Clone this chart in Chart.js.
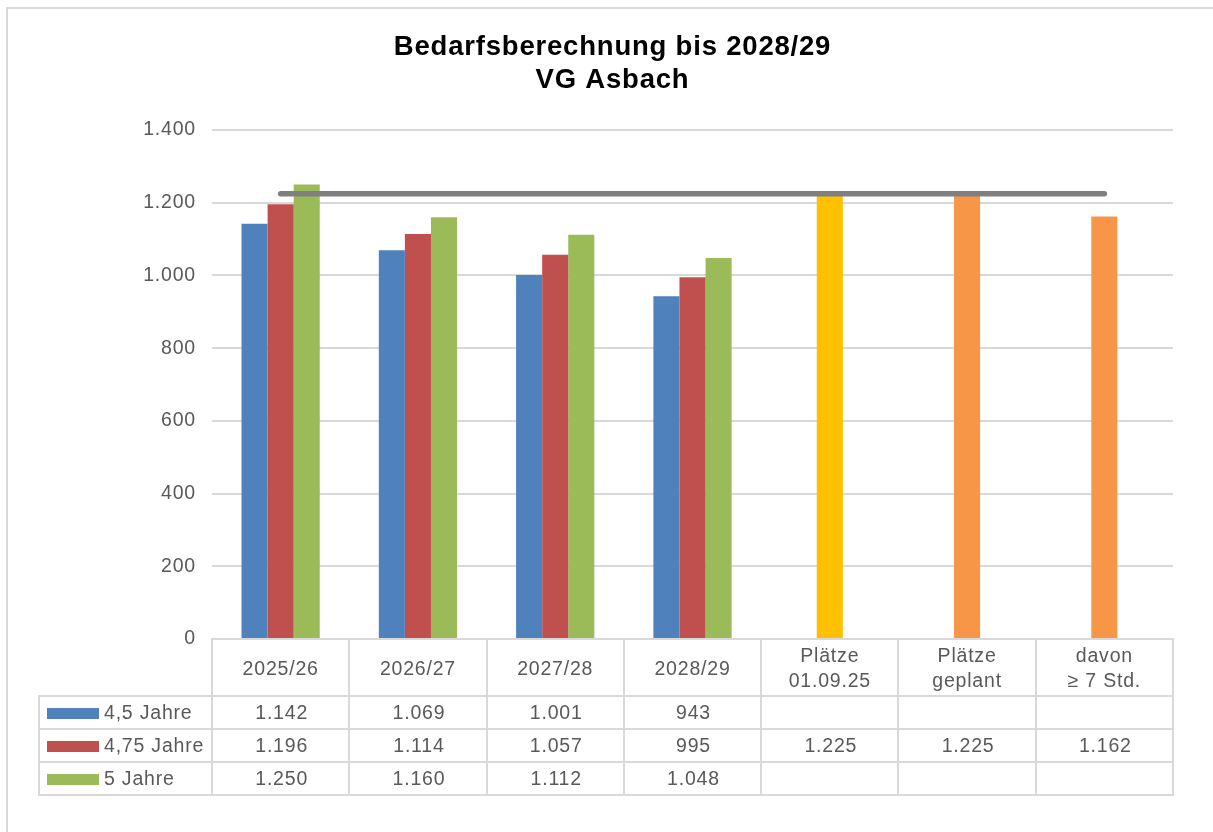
<!DOCTYPE html>
<html>
<head>
<meta charset="utf-8">
<script src="https://cdn.jsdelivr.net/npm/chart.js@4/dist/chart.umd.min.js"></script>
<style>
html,body{margin:0;padding:0;background:#fff;}
canvas{display:block;}
</style>
</head>
<body>
<canvas id="c" width="1213" height="832"></canvas>
<script>
// ---- data ----
const categories = ['2025/26', '2026/27', '2027/28', '2028/29', ['Plätze', '01.09.25'], ['Plätze', 'geplant'], ['davon', '≥ 7 Std.']];
const seriesNames = ['4,5 Jahre', '4,75 Jahre', '5 Jahre'];
const jahre45 = [1142, 1069, 1001, 943, null, null, null];
const jahre475 = [1196, 1114, 1057, 995, 1225, 1225, 1162];
const jahre5 = [1250, 1160, 1112, 1048, null, null, null];
const platzLinie = [1225, 1225, 1225, 1225, 1225, 1225, 1225];
const yMin = 0, yMax = 1400, yStep = 200;

// ---- styling ----
const FONT = "'Liberation Sans', Arial, sans-serif";
const FS = 19.5;
const TXT = '#595959';
const GRID = '#D9D9D9';
const LS = '0.8px';
const colBlue = '#4F81BD', colRed = '#C0504D', colGreen = '#9BBB59';
const colYellow = '#FFC000', colOrange = '#F79646';
const redPointColors = [colRed, colRed, colRed, colRed, colYellow, colOrange, colOrange];

function fmt(v) {
  if (v === null || v === undefined) return '';
  const s = String(Math.round(v));
  return s.replace(/\B(?=(\d{3})+(?!\d))/g, '.');
}

const HEADER_H = 57, ROW_H = 33, LEG_LEFT = 39;

const spacingPlugin = {
  id: 'spacing',
  beforeUpdate(chart) { chart.ctx.letterSpacing = LS; },
  beforeLayout(chart) { chart.ctx.letterSpacing = LS; },
  beforeDraw(chart) {
    const ctx = chart.ctx;
    ctx.letterSpacing = LS;
    ctx.save();
    ctx.fillStyle = '#fff';
    ctx.fillRect(0, 0, chart.width, chart.height);
    ctx.fillStyle = GRID;
    ctx.fillRect(6, 7, 2, chart.height - 7);
    ctx.fillRect(6, 7, chart.width - 6, 2);
    ctx.restore();
  }
};

const tablePlugin = {
  id: 'dataTable',
  afterDraw(chart) {
    const ctx = chart.ctx;
    const xs = chart.scales.x;
    const ca = chart.chartArea;
    const n = categories.length;
    const half = (xs.getPixelForValue(1) - xs.getPixelForValue(0)) / 2;
    const top = ca.bottom;
    const rowTop = top + HEADER_H;
    const bottom = rowTop + ROW_H * 3;
    ctx.save();
    ctx.letterSpacing = LS;
    ctx.strokeStyle = GRID;
    ctx.lineWidth = 2;
    ctx.beginPath();
    for (let i = 0; i <= n; i++) {
      const x = Math.round(xs.getPixelForValue(Math.min(i, n - 1)) + (i === n ? half : -half));
      ctx.moveTo(x, top); ctx.lineTo(x, bottom);
    }
    ctx.moveTo(LEG_LEFT, rowTop); ctx.lineTo(LEG_LEFT, bottom);
    for (let r = 0; r <= 3; r++) {
      const y = Math.round(rowTop + r * ROW_H);
      ctx.moveTo(LEG_LEFT - 1, y); ctx.lineTo(ca.right + 1, y);
    }
    ctx.stroke();

    const rows = [jahre45, jahre475, jahre5];
    const colors = [colBlue, colRed, colGreen];
    ctx.font = FS + 'px ' + FONT;
    ctx.textBaseline = 'middle';
    for (let r = 0; r < 3; r++) {
      const cy = rowTop + r * ROW_H + ROW_H / 2 + 1;
      ctx.fillStyle = colors[r];
      ctx.fillRect(47, Math.round(cy - 6), 52, 11);
      ctx.fillStyle = TXT;
      ctx.textAlign = 'left';
      ctx.fillText(seriesNames[r], 104, cy);
      ctx.textAlign = 'center';
      for (let i = 0; i < n; i++) {
        const t = fmt(rows[r][i]);
        if (t) ctx.fillText(t, xs.getPixelForValue(i) + 1, cy);
      }
    }
    ctx.restore();
  }
};

new Chart(document.getElementById('c'), {
  data: {
    labels: categories,
    datasets: [
      {
        type: 'line', label: 'Plätze', data: platzLinie, order: 0,
        borderColor: '#7F7F7F', borderWidth: 5.5, borderCapStyle: 'round',
        pointRadius: 0, pointHoverRadius: 0, fill: false, tension: 0
      },
      { type: 'bar', label: seriesNames[0], data: jahre45, backgroundColor: colBlue, order: 1 },
      { type: 'bar', label: seriesNames[1], data: jahre475, backgroundColor: redPointColors, order: 1 },
      { type: 'bar', label: seriesNames[2], data: jahre5, backgroundColor: colGreen, order: 1 }
    ]
  },
  options: {
    responsive: false,
    animation: false,
    devicePixelRatio: 1,
    layout: { padding: { left: 52, right: 40, top: 0, bottom: 37 } },
    datasets: { bar: { categoryPercentage: 0.57, barPercentage: 1.0, borderWidth: 0 } },
    plugins: {
      legend: { display: false },
      tooltip: { enabled: false },
      title: {
        display: true,
        text: ['Bedarfsberechnung bis 2028/29', 'VG Asbach'],
        color: '#000',
        font: { family: FONT, size: 27.5, weight: 'bold', lineHeight: 33 / 27.5 },
        padding: { top: 30.5, bottom: 33.5 }
      }
    },
    scales: {
      x: {
        grid: { display: false, drawTicks: false },
        border: { display: true, color: GRID, width: 2 },
        ticks: {
          color: TXT, autoSkip: false, maxRotation: 0, minRotation: 0,
          crossAlign: 'center', padding: 18,
          font: { family: FONT, size: FS, lineHeight: 1.25 }
        },
        afterFit(s) { s.height = HEADER_H + ROW_H * 3; }
      },
      y: {
        min: yMin, max: yMax,
        grid: { color: GRID, lineWidth: 2, drawTicks: false },
        border: { display: false },
        ticks: {
          stepSize: yStep, color: TXT, padding: 16,
          font: { family: FONT, size: FS },
          callback: (v) => fmt(v)
        },
        afterFit(s) { s.width = 160; }
      }
    }
  },
  plugins: [spacingPlugin, tablePlugin]
});
</script>
</body>
</html>
